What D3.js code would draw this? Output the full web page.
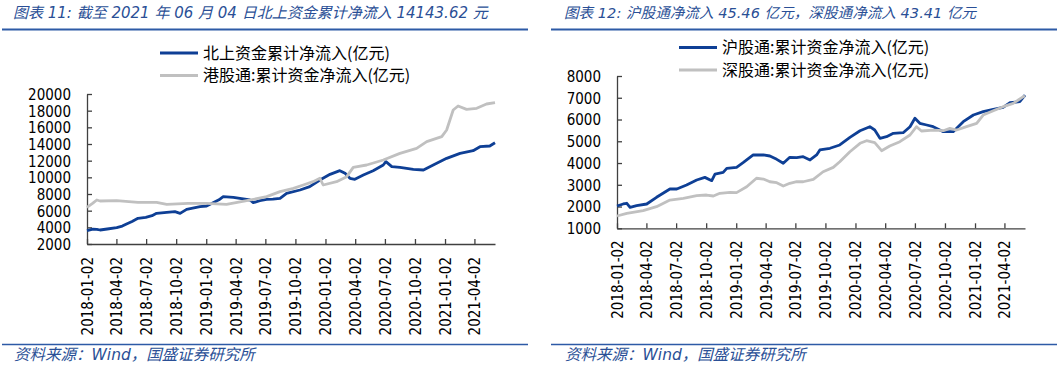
<!DOCTYPE html>
<html><head><meta charset="utf-8">
<script src="https://cdn.jsdelivr.net/npm/d3@7/dist/d3.min.js"></script>
<style>
html,body{margin:0;padding:0;background:#fff;}
svg{display:block;}
.tick-lbl{font-family:"DejaVu Sans Condensed","DejaVu Sans",sans-serif;font-stretch:condensed;font-size:15px;fill:#000;}
.cjk{font-family:"Noto Sans CJK SC",sans-serif;}
.ttl{font-family:"DejaVu Sans","Noto Sans CJK SC",sans-serif;}
</style></head>
<body>
<svg id="c" width="1060" height="366"></svg>
<script>
// ---------- DATA ----------
const titles = ["图表 11:  截至 2021 年 06 月 04 日北上资金累计净流入 14143.62 元",
                "图表 12: 沪股通净流入 45.46 亿元，深股通净流入 43.41 亿元"];
const sourceText = "资料来源：Wind，国盛证券研究所";
const legendLeft = ["北上资金累计净流入(亿元)", "港股通:累计资金净流入(亿元)"];
const legendRight = ["沪股通:累计资金净流入(亿元)", "深股通:累计资金净流入(亿元)"];
const xTickLabels = ["2018-01-02","2018-04-02","2018-07-02","2018-10-02","2019-01-02","2019-04-02","2019-07-02",
  "2019-10-02","2020-01-02","2020-04-02","2020-07-02","2020-10-02","2021-01-02","2021-04-02"];
const xDomain = ["2018-01-02","2021-06-04"];
const yTicksLeft = [2000,4000,6000,8000,10000,12000,14000,16000,18000,20000];
const yTicksRight = [1000,2000,3000,4000,5000,6000,7000,8000];

const northDates = ["2018-01-02","2018-01-20","2018-02-01","2018-02-11","2018-03-05","2018-04-03","2018-04-20","2018-05-03",
  "2018-05-20","2018-06-07","2018-07-01","2018-07-20","2018-08-03","2018-09-03","2018-09-28","2018-10-14","2018-11-03",
  "2018-12-14","2019-01-03","2019-01-23","2019-02-10","2019-02-23","2019-03-26","2019-04-15","2019-05-16","2019-05-26",
  "2019-06-15","2019-07-06","2019-07-25","2019-08-16","2019-09-05","2019-10-16","2019-11-15","2019-12-16","2020-01-16",
  "2020-02-15","2020-03-02","2020-03-17","2020-04-01","2020-04-27","2020-05-27","2020-06-27","2020-07-05","2020-07-23",
  "2020-08-17","2020-09-27","2020-10-28","2020-11-27","2021-01-07","2021-02-17","2021-03-29","2021-04-19","2021-05-19","2021-06-04"];
const northValues = [3600,3780,3760,3680,3800,3960,4150,4400,4700,5080,5200,5400,5680,5800,5880,5680,6160,6480,6560,6960,
  7300,7680,7600,7480,7280,6960,7200,7360,7380,7480,8080,8480,8880,9680,10360,10800,10480,9880,9760,10280,10800,11480,
  11880,11280,11200,10960,10880,11480,12280,12880,13200,13680,13760,14143];

const southDates = ["2018-01-02","2018-01-20","2018-02-01","2018-02-11","2018-04-03","2018-06-07","2018-08-03","2018-09-03",
  "2018-11-08","2019-01-03","2019-03-05","2019-05-06","2019-07-06","2019-08-16","2019-09-26","2019-10-26","2019-11-25",
  "2019-12-16","2019-12-26","2020-02-05","2020-03-07","2020-03-27","2020-05-07","2020-06-27","2020-08-17","2020-10-07",
  "2020-11-07","2020-12-23","2021-01-07","2021-01-27","2021-02-11","2021-03-09","2021-04-09","2021-05-09","2021-06-04"];
const southValues = [6400,6900,7280,7160,7200,7000,7000,6760,6880,6880,6760,7200,7680,8280,8680,9080,9480,9880,9080,9480,
  10080,11200,11480,12080,12880,13480,14280,14880,15680,18080,18560,18160,18280,18800,18960];

const shDates = ["2018-01-02","2018-01-21","2018-02-01","2018-02-11","2018-03-03","2018-04-03","2018-05-03","2018-06-13",
  "2018-07-04","2018-08-03","2018-09-03","2018-09-28","2018-10-19","2018-10-29","2018-11-23","2018-12-04","2019-01-03",
  "2019-01-23","2019-02-23","2019-03-26","2019-04-15","2019-05-06","2019-05-26","2019-06-15","2019-07-06","2019-07-26",
  "2019-08-16","2019-09-05","2019-09-15","2019-10-16","2019-11-15","2019-12-16","2020-01-16","2020-02-15","2020-03-01",
  "2020-03-17","2020-04-06","2020-04-27","2020-05-27","2020-06-17","2020-07-02","2020-07-17","2020-08-07","2020-08-27",
  "2020-09-27","2020-10-27","2020-11-27","2020-12-28","2021-01-27","2021-02-27","2021-03-29","2021-04-19","2021-05-19","2021-06-04"];
const shValues = [2025,2117,2150,1965,2040,2117,2425,2806,2806,2990,3220,3340,3190,3495,3570,3757,3803,4015,4370,4370,4323,
  4170,3987,4263,4245,4290,4140,4370,4600,4677,4830,5180,5485,5670,5517,5136,5210,5366,5393,5670,6055,5825,5748,5670,
  5440,5440,5900,6207,6360,6470,6560,6770,6820,7126];

const szDates = ["2018-01-02","2018-02-01","2018-03-23","2018-05-03","2018-06-13","2018-07-24","2018-09-03","2018-10-03",
  "2018-10-24","2018-11-13","2018-12-14","2019-01-03","2019-02-03","2019-03-05","2019-03-26","2019-04-15","2019-05-06",
  "2019-05-26","2019-06-15","2019-07-06","2019-07-26","2019-08-26","2019-09-25","2019-10-26","2019-11-15","2019-12-16",
  "2020-01-16","2020-02-05","2020-03-01","2020-03-22","2020-04-16","2020-05-17","2020-06-17","2020-07-07","2020-07-22",
  "2020-08-27","2020-09-27","2020-10-17","2020-11-07","2020-12-07","2021-01-07","2021-01-27","2021-02-27","2021-03-29",
  "2021-04-29","2021-05-30","2021-06-04"];
const szValues = [1565,1690,1810,1995,2300,2380,2500,2530,2485,2608,2655,2640,2910,3300,3265,3140,3095,2945,3070,3140,
  3140,3250,3600,3800,4060,4520,4906,5025,4934,4566,4782,4980,5288,5670,5472,5517,5485,5595,5517,5670,5825,6207,6405,
  6590,6745,7050,7080];

// ---------- DRAW ----------
const parse = d3.timeParse("%Y-%m-%d");
const svg = d3.select("#c");
svg.append("rect").attr("width",1060).attr("height",366).attr("fill","#fff");
const BLUE = "#0e3f95", GRAY = "#c0c0c0", TBLUE = "#2a4f96";

function panel(o) {
  const g = svg.append("g").attr("transform", `translate(${o.ox},0)`);
  // title
  g.append("text").attr("class","ttl").attr("x", o.titleX).attr("y", 18)
    .attr("font-size", o.titleSize).attr("font-style","italic").attr("fill", TBLUE).text(o.title);
  g.append("line").attr("x1", o.lineX1).attr("x2", o.lineX2).attr("y1", 29.5).attr("y2", 29.5)
    .attr("stroke", "#2d5aa6").attr("stroke-width", 2);
  // footer
  g.append("line").attr("x1", o.lineX1).attr("x2", o.lineX2).attr("y1", 344.5).attr("y2", 344.5)
    .attr("stroke", "#2d5aa6").attr("stroke-width", 1.5);
  g.append("text").attr("class","ttl").attr("x", o.titleX + 1).attr("y", 360)
    .attr("font-size", 15.5).attr("font-style","italic").attr("fill", TBLUE).text(sourceText);

  const x = d3.scaleTime().domain(xDomain.map(parse)).range([87, 495]);
  const y = d3.scaleLinear().domain(o.yDomain).range([o.yBottom, o.yTop]);

  // axes
  const xAxis = d3.axisBottom(x).tickValues(xTickLabels.map(parse)).tickSize(-5).tickSizeOuter(0).tickFormat(d3.timeFormat("%Y-%m-%d"));
  const xa = g.append("g").attr("transform", `translate(0,${o.yBottom})`).call(xAxis);
  xa.select(".domain").attr("stroke","#404040").attr("stroke-width",1.3);
  xa.selectAll(".tick line").attr("stroke","#404040").attr("stroke-width",1.3);
  xa.selectAll(".tick text").attr("class","tick-lbl").attr("transform","rotate(-90)")
    .attr("text-anchor","end").attr("x", -o.xLblOff).attr("y", 0).attr("dy","0.36em");

  const yAxis = d3.axisLeft(y).tickValues(o.yTicks).tickSize(-5).tickSizeOuter(0).tickFormat(d3.format("d"));
  const ya = g.append("g").attr("transform", `translate(87,0)`).call(yAxis);
  ya.select(".domain").attr("stroke","#404040").attr("stroke-width",1.3);
  ya.selectAll(".tick line").attr("stroke","#404040").attr("stroke-width",1.3);
  ya.selectAll(".tick text").attr("class","tick-lbl").attr("x", -16).attr("dy","0.36em");

  const line = d3.line().x(d => x(d[0])).y(d => y(d[1])).curve(d3.curveLinear);
  o.series.forEach(s => {
    const pts = s.dates.map((d,i) => [parse(d), s.values[i]]);
    g.append("path").attr("d", line(pts)).attr("fill","none").attr("stroke", s.color)
      .attr("stroke-width", 2.8).attr("stroke-linejoin","round");
  });

  // legend
  o.legend.forEach((t,i) => {
    const ly = o.legY + i*22.5;
    g.append("line").attr("x1", o.legX).attr("x2", o.legX + 38).attr("y1", ly).attr("y2", ly)
      .attr("stroke", i === 0 ? BLUE : GRAY).attr("stroke-width", 3);
    g.append("text").attr("class","cjk").attr("x", o.legX + 43).attr("y", ly).attr("dy","0.35em")
      .attr("font-size", 16).attr("fill","#000").text(t);
  });
}

panel({ox:0, title:titles[0], titleX:13, titleSize:15, lineX1:2, lineX2:528, yDomain:[2000,20000], yBottom:244, yTop:94,
  yTicks:yTicksLeft, xLblOff:13, legX:160, legY:53, legend:legendLeft,
  series:[{dates:northDates, values:northValues, color:BLUE},{dates:southDates, values:southValues, color:GRAY}]});
panel({ox:530, title:titles[1], titleX:34, titleSize:14.6, lineX1:21, lineX2:527, yDomain:[1000,8000], yBottom:228.3, yTop:76,
  yTicks:yTicksRight, xLblOff:12, legX:149, legY:47.5, legend:legendRight,
  series:[{dates:shDates, values:shValues, color:BLUE},{dates:szDates, values:szValues, color:GRAY}]});
</script>
</body></html>
